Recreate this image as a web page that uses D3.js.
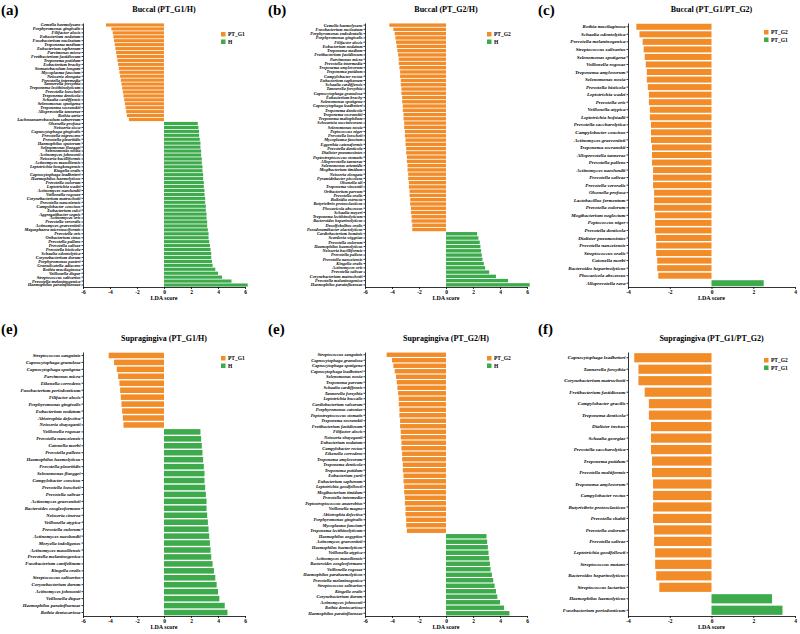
<!DOCTYPE html>
<html><head><meta charset="utf-8">
<script src="https://cdn.jsdelivr.net/npm/d3@7"></script>
<style>body{margin:0;background:#fff}svg{display:block}</style>
</head><body><svg id="c" width="800" height="634"></svg>
<script>
// ---------- DATA ----------
const ticksWide = [-6, -4, -2, 0, 2, 4, 6];
const ticksNarrow = [-4, -2, 0, 2, 4];

const aSpecies = ["Gemella haemolysans","Porphyromonas gingivalis","Filifactor alocis","Eubacterium nodatum","Fusobacterium nucleatum","Treponema medium","Eubacterium saphenum","Parvimonas micra","Fretibacterium fastidiosum","Treponema putidum","Eubacterium brachy","Stomatobaculum longum","Mycoplasma faucium","Neisseria elongata","Prevotella intermedia","Tannerella forsythia","Treponema lecithinolyticum","Prevotella loescheii","Treponema denticola","Schaalia cardiffensis","Selenomonas sputigena","Treponema socranskii","Alloprevotella tannerae","Rothia aeria","Lachnoanaerobaculum saburreum",
"Olsenella profusa","Neisseria sicca","Capnocytophaga gingivalis","Prevotella nigrescens","Prevotella pleuritidis","Haemophilus sputorum","Selenomonas flueggei","Selenomonas noxia","Actinomyces johnsonii","Neisseria bacilliformis","Actinomyces massiliensis","Leptotrichia hongkongensis","Kingella oralis","Capnocytophaga leadbetteri","Haemophilus haemolyticus","Prevotella oulorum","Leptotrichia wadei","Actinomyces naeslundii","Veillonella rogosae","Corynebacterium matruchotii","Prevotella nanceiensis","Campylobacter concisus","Eubacterium sulci","Aggregatibacter segnis","Actinomyces oris","Prevotella veroralis","Actinomyces graevenitzii","Megasphaera micronuciformis","Prevotella oris","Oribacterium sinus","Prevotella pallens","Prevotella salivae","Prevotella histicola","Schaalia odontolytica","Corynebacterium durum","Porphyromonas pasteri","Granulicatella adiacens","Rothia mucilaginosa","Veillonella dispar","Streptococcus salivarius","Prevotella melaninogenica","Haemophilus parainfluenzae"];
const aLDA = [-4.3,-3.9,-3.8,-3.75,-3.7,-3.65,-3.6,-3.55,-3.5,-3.45,-3.4,-3.35,-3.3,-3.25,-3.2,-3.15,-3.1,-3.05,-3.0,-2.95,-2.9,-2.85,-2.8,-2.75,-2.6,
2.5,2.55,2.6,2.6,2.65,2.7,2.7,2.75,2.75,2.8,2.8,2.85,2.85,2.9,2.9,2.95,2.95,3.0,3.0,3.05,3.05,3.1,3.1,3.15,3.15,3.2,3.2,3.25,3.3,3.3,3.35,3.4,3.45,3.5,3.5,3.55,3.6,3.8,4.0,4.3,5.0,6.2];

const bSpecies = ["Gemella haemolysans","Fusobacterium nucleatum","Porphyromonas endodontalis","Porphyromonas gingivalis","Filifactor alocis","Eubacterium nodatum","Treponema medium","Fretibacterium fastidiosum","Parvimonas micra","Prevotella intermedia","Treponema amylovorum","Treponema putidum","Campylobacter rectus","Eubacterium saphenum","Schaalia cardiffensis","Tannerella forsythia","Capnocytophaga granulosa","Eubacterium brachy","Selenomonas sputigena","Capnocytophaga leadbetteri","Treponema denticola","Treponema socranskii","Treponema maltophilum","Schwartzia succinivorans","Selenomonas noxia","Peptococcus niger","Prevotella loescheii","Mycoplasma faucium","Eggerthia catenaformis","Prevotella denticola","Dialister pneumosintes","Peptostreptococcus stomatis","Alloprevotella tannerae","Selenomonas artemidis","Mogibacterium timidum","Neisseria elongata","Pyramidobacter piscolens","Olsenella uli","Treponema vincentii","Oribacterium parvum","Prevotella oralis","Bulleidia extructa","Butyrivibrio proteoclasticus","Phocaeicola abscessus","Schaalia meyeri","Treponema lecithinolyticum","Bacteroides heparinolyticus","Desulfobulbus oralis","Pseudoramibacter alactolyticus",
"Cardiobacterium hominis","Scardovia wiggsiae","Prevotella oulorum","Haemophilus haemolyticus","Neisseria bacilliformis","Prevotella pallens","Prevotella nanceiensis","Kingella oralis","Actinomyces oris","Prevotella salivae","Corynebacterium matruchotii","Prevotella melaninogenica","Haemophilus parainfluenzae"];
const bLDA = [-4.2,-3.9,-3.8,-3.75,-3.7,-3.65,-3.6,-3.55,-3.5,-3.5,-3.45,-3.4,-3.4,-3.35,-3.35,-3.3,-3.3,-3.25,-3.25,-3.2,-3.2,-3.15,-3.15,-3.1,-3.1,-3.05,-3.05,-3.0,-3.0,-2.95,-2.95,-2.9,-2.9,-2.85,-2.85,-2.8,-2.8,-2.75,-2.75,-2.7,-2.7,-2.65,-2.65,-2.6,-2.6,-2.55,-2.55,-2.5,-2.5,
2.3,2.4,2.5,2.55,2.6,2.65,2.7,2.8,2.9,3.2,3.7,4.6,6.2];

const cSpecies = ["Rothia mucilaginosa","Schaalia odontolytica","Prevotella melaninogenica","Streptococcus salivarius","Selenomonas sputigena","Veillonella rogosae","Treponema amylovorum","Selenomonas noxia","Prevotella histicola","Leptotrichia wadei","Prevotella oris","Veillonella atypica","Leptotrichia hofstadii","Prevotella saccharolytica","Campylobacter concisus","Actinomyces graevenitzii","Treponema socranskii","Alloprevotella tannerae","Prevotella pallens","Actinomyces naeslundii","Prevotella salivae","Prevotella veroralis","Olsenella profusa","Lactobacillus fermentum","Prevotella oulorum","Mogibacterium neglectum","Peptococcus niger","Prevotella denticola","Dialister pneumosintes","Prevotella nanceiensis","Streptococcus oralis","Catonella morbi","Bacteroides heparinolyticus","Phocaeicola abscessus","Alloprevotella rava"];
const cLDA = [-3.6,-3.45,-3.3,-3.25,-3.2,-3.15,-3.1,-3.1,-3.05,-3.0,-3.0,-2.95,-2.95,-2.9,-2.9,-2.9,-2.85,-2.85,-2.85,-2.8,-2.8,-2.8,-2.75,-2.75,-2.75,-2.7,-2.7,-2.7,-2.65,-2.65,-2.65,-2.6,-2.6,-2.55,2.5];

const eSpecies = ["Streptococcus sanguinis","Capnocytophaga granulosa","Capnocytophaga sputigena","Parvimonas micra","Eikenella corrodens","Fusobacterium periodonticum","Filifactor alocis","Porphyromonas gingivalis","Eubacterium nodatum","Abiotrophia defectiva","Neisseria shayeganii",
"Veillonella rogosae","Prevotella nanceiensis","Catonella morbi","Prevotella pallens","Haemophilus haemolyticus","Prevotella pleuritidis","Selenomonas flueggei","Campylobacter concisus","Prevotella loescheii","Prevotella salivae","Actinomyces graevenitzii","Bacteroides zoogleoformans","Neisseria cinerea","Veillonella atypica","Prevotella oulorum","Actinomyces naeslundii","Moryella indoligenes","Actinomyces massiliensis","Prevotella melaninogenica","Fusobacterium canifelinum","Kingella oralis","Streptococcus salivarius","Corynebacterium durum","Actinomyces johnsonii","Veillonella dispar","Haemophilus parainfluenzae","Rothia dentocariosa"];
const eLDA = [-4.1,-3.7,-3.5,-3.4,-3.3,-3.25,-3.2,-3.15,-3.1,-3.05,-3.0,
2.7,2.75,2.8,2.85,2.9,2.95,3.0,3.0,3.05,3.1,3.15,3.15,3.2,3.25,3.3,3.35,3.4,3.45,3.5,3.6,3.7,3.8,3.9,4.0,4.1,4.5,4.7];

const e2Species = ["Streptococcus sanguinis","Capnocytophaga granulosa","Capnocytophaga sputigena","Capnocytophaga leadbetteri","Selenomonas noxia","Treponema parvum","Schaalia cardiffensis","Tannerella forsythia","Leptotrichia buccalis","Cardiobacterium valvarum","Porphyromonas catoniae","Peptostreptococcus stomatis","Treponema socranskii","Fretibacterium fastidiosum","Filifactor alocis","Neisseria shayeganii","Eubacterium nodatum","Campylobacter rectus","Eikenella corrodens","Treponema amylovorum","Treponema denticola","Treponema putidum","Eubacterium yurii","Eubacterium saphenum","Leptotrichia goodfellowii","Mogibacterium timidum","Prevotella intermedia","Peptostreptococcus anaerobius","Veillonella magna","Abiotrophia defectiva","Porphyromonas gingivalis","Mycoplasma faucium","Treponema lecithinolyticum",
"Haemophilus aegyptius","Actinomyces graevenitzii","Haemophilus haemolyticus","Veillonella atypica","Actinomyces massiliensis","Bacteroides zoogleoformans","Veillonella rogosae","Haemophilus parahaemolyticus","Prevotella melaninogenica","Streptococcus salivarius","Kingella oralis","Corynebacterium durum","Actinomyces johnsonii","Rothia dentocariosa","Haemophilus parainfluenzae"];
const e2LDA = [-4.4,-4.0,-3.9,-3.8,-3.7,-3.65,-3.6,-3.55,-3.5,-3.5,-3.45,-3.45,-3.4,-3.4,-3.35,-3.35,-3.3,-3.3,-3.25,-3.25,-3.2,-3.2,-3.15,-3.15,-3.1,-3.1,-3.05,-3.05,-3.0,-3.0,-2.95,-2.95,-2.9,
3.0,3.05,3.1,3.15,3.2,3.25,3.3,3.4,3.5,3.6,3.7,3.8,4.0,4.3,4.7];

const fSpecies = ["Capnocytophaga leadbetteri","Tannerella forsythia","Corynebacterium matruchotii","Fretibacterium fastidiosum","Campylobacter gracilis","Treponema denticola","Dialister invisus","Schaalia georgiae","Prevotella saccharolytica","Treponema putidum","Prevotella multiformis","Treponema amylovorum","Campylobacter rectus","Butyrivibrio proteoclasticus","Prevotella shahii","Prevotella oulorum","Prevotella salivae","Leptotrichia goodfellowii","Streptococcus mutans","Bacteroides heparinolyticus","Streptococcus lactarius","Haemophilus haemolyticus","Fusobacterium periodonticum"];
const fLDA = [-3.7,-3.5,-3.5,-3.2,-3.0,-3.0,-2.9,-2.9,-2.9,-2.85,-2.85,-2.8,-2.8,-2.8,-2.8,-2.75,-2.75,-2.7,-2.7,-2.65,-2.5,2.9,3.4];

// ---------- DRAW ----------
const ORANGE = "#F28C28", GREEN = "#3DAA4B";
const svg = d3.select("#c");
const SERIF = "'Liberation Serif','Times New Roman',serif";

function panel(cfg) {
  const g = svg.append("g");
  const x = d3.scaleLinear().domain(cfg.domain).range([cfg.x0, cfg.x1]);
  const y = d3.scaleBand().domain(cfg.species).range([cfg.y0, cfg.y1]).paddingInner(0.2).paddingOuter(0.1);
  const rows = cfg.species.map((s, i) => ({ s, v: cfg.values[i] }));
  g.append("g").selectAll("rect").data(rows).join("rect")
    .attr("x", d => x(Math.min(0, d.v)))
    .attr("width", d => Math.abs(x(d.v) - x(0)))
    .attr("y", d => y(d.s))
    .attr("height", y.bandwidth())
    .attr("fill", d => d.v < 0 ? ORANGE : GREEN);

  const ya = g.append("g").attr("transform", `translate(${cfg.x0},0)`)
    .call(d3.axisLeft(y).tickSize(1.5).tickPadding(1).tickSizeOuter(0));
  ya.selectAll("text").attr("font-family", SERIF).attr("font-style", "italic")
    .attr("font-weight", "bold").attr("font-size", cfg.fs).attr("fill", "#000");
  ya.selectAll("line,path").attr("stroke", "#000").attr("stroke-width", 0.8);

  const xa = g.append("g").attr("transform", `translate(0,${cfg.y1})`)
    .call(d3.axisBottom(x).tickValues(cfg.ticks).tickSize(2).tickPadding(1.5).tickFormat(d => String(d)).tickSizeOuter(0));
  xa.selectAll("text").attr("font-family", SERIF).attr("font-weight", "bold").attr("font-size", 5.5).attr("fill", "#000");
  xa.selectAll("line,path").attr("stroke", "#000").attr("stroke-width", 0.8);

  g.append("text").attr("x", (cfg.x0 + cfg.x1) / 2).attr("y", cfg.y1 + 13)
    .attr("text-anchor", "middle").attr("font-family", SERIF).attr("font-weight", "bold")
    .attr("font-size", 6).text("LDA score");

  g.append("text").attr("x", (cfg.x0 + cfg.x1) / 2).attr("y", cfg.titleY)
    .attr("text-anchor", "middle").attr("font-family", SERIF).attr("font-weight", "bold")
    .attr("font-size", 8).text(cfg.title);

  g.append("text").attr("x", cfg.tagX).attr("y", cfg.tagY)
    .attr("font-family", SERIF).attr("font-weight", "bold").attr("font-size", 15).text(cfg.tag);

  const leg = g.append("g").attr("transform", `translate(${cfg.legX},${cfg.legY})`);
  cfg.legend.forEach((l, i) => {
    leg.append("rect").attr("x", 0).attr("y", i * 7.5).attr("width", 4.5).attr("height", 4.5).attr("fill", i === 0 ? ORANGE : GREEN);
    leg.append("text").attr("x", 7).attr("y", i * 7.5 + 4.3).attr("font-family", SERIF)
      .attr("font-weight", "bold").attr("font-size", 5.5).text(l);
  });
}

const topY0 = 23, topY1 = 287, botY0 = 352, botY1 = 616;
panel({species: aSpecies, values: aLDA, domain: [-6, 6], ticks: ticksWide, x0: 83, x1: 245, y0: topY0, y1: topY1, fs: 4.4,
  title: "Buccal (PT_G1/H)", titleY: 12, tag: "(a)", tagX: 1, tagY: 15, legend: ["PT_G1", "H"], legX: 221, legY: 32});
panel({species: bSpecies, values: bLDA, domain: [-6, 6], ticks: ticksWide, x0: 365, x1: 527, y0: topY0, y1: topY1, fs: 4.3,
  title: "Buccal (PT_G2/H)", titleY: 12, tag: "(b)", tagX: 268, tagY: 15, legend: ["PT_G2", "H"], legX: 487, legY: 32});
panel({species: cSpecies, values: cLDA, domain: [-4, 4], ticks: ticksNarrow, x0: 628, x1: 795, y0: topY0, y1: topY1, fs: 5,
  title: "Buccal (PT_G1/PT_G2)", titleY: 12, tag: "(c)", tagX: 538, tagY: 15, legend: ["PT_G2", "PT_G1"], legX: 764, legY: 30});
panel({species: eSpecies, values: eLDA, domain: [-6, 6], ticks: ticksWide, x0: 83, x1: 245, y0: botY0, y1: botY1, fs: 4.8,
  title: "Supragingiva (PT_G1/H)", titleY: 341, tag: "(e)", tagX: 1, tagY: 334, legend: ["PT_G1", "H"], legX: 221, legY: 356});
panel({species: e2Species, values: e2LDA, domain: [-6, 6], ticks: ticksWide, x0: 365, x1: 527, y0: botY0, y1: botY1, fs: 4.5,
  title: "Supragingiva (PT_G2/H)", titleY: 341, tag: "(e)", tagX: 268, tagY: 334, legend: ["PT_G2", "H"], legX: 487, legY: 356});
panel({species: fSpecies, values: fLDA, domain: [-4, 4], ticks: ticksNarrow, x0: 628, x1: 795, y0: botY0, y1: botY1, fs: 5,
  title: "Supragingiva (PT_G1/PT_G2)", titleY: 341, tag: "(f)", tagX: 538, tagY: 334, legend: ["PT_G2", "PT_G1"], legX: 764, legY: 358});
</script></body></html>
